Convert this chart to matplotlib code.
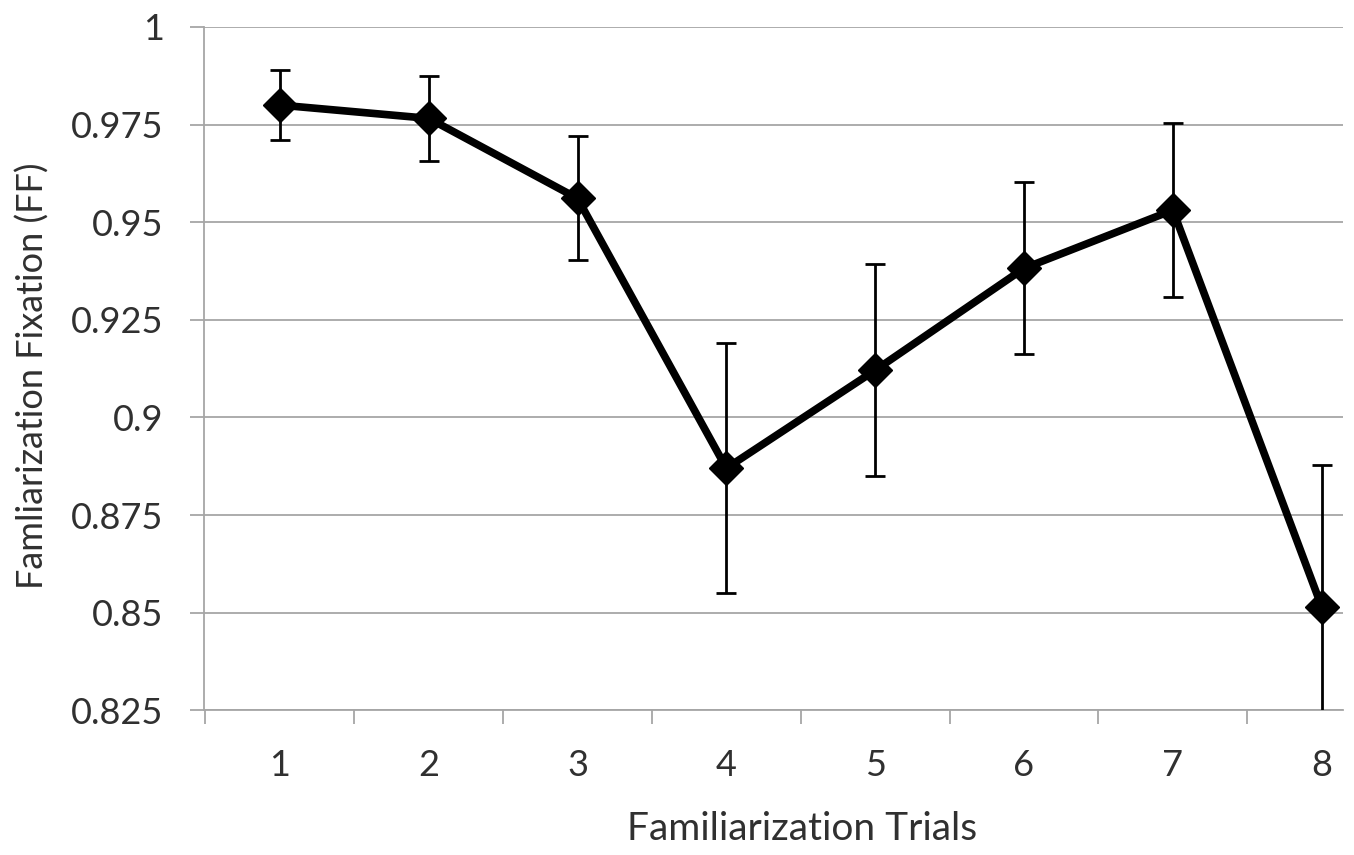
import numpy as np
import matplotlib
matplotlib.use('Agg')
import matplotlib.pyplot as plt
from matplotlib.ticker import FixedLocator, NullFormatter

# Data
trials = [1, 2, 3, 4, 5, 6, 7, 8]
ff_mean = [0.980, 0.9766, 0.9561, 0.8870, 0.9121, 0.9382, 0.9531, 0.8515]
ff_err = [0.0090, 0.0108, 0.0159, 0.0320, 0.0271, 0.0220, 0.0222, 0.0363]
y_ticks = [0.825, 0.85, 0.875, 0.9, 0.925, 0.95, 0.975, 1.0]
y_tick_labels = ['0.825', '0.85', '0.875', '0.9', '0.925', '0.95', '0.975', '1']

plt.rcParams['font.family'] = ['Lato', 'DejaVu Sans']

grid_col = '#a6a6a6'
text_col = '#303030'

fig = plt.figure(figsize=(13.54, 8.55), dpi=100)
ax = fig.add_axes([204 / 1354, 1 - 710.3 / 855, (1343 - 204) / 1354, 683.3 / 855])

ax.errorbar(trials, ff_mean, yerr=ff_err, fmt='none', ecolor='black',
            elinewidth=2, capsize=7, capthick=2, zorder=3)
ax.plot(trials, ff_mean, color='black', lw=5.5, marker='D', ms=17,
        zorder=4, solid_joinstyle='miter')

ax.set_xlim(0.49, 8.143)
ax.set_ylim(0.825, 1.0)

ax.set_yticks(y_ticks)
ax.set_yticklabels(y_tick_labels)
ax.set_xticks(trials)
ax.set_xticklabels([str(t) for t in trials])
ax.xaxis.set_minor_locator(FixedLocator([0.5, 1.5, 2.5, 3.5, 4.5, 5.5, 6.5, 7.5]))
ax.xaxis.set_minor_formatter(NullFormatter())

ax.grid(axis='y', color=grid_col, lw=1.3, zorder=0)
ax.set_axisbelow(True)

for s in ['top', 'right']:
    ax.spines[s].set_visible(False)
for s in ['left', 'bottom']:
    ax.spines[s].set_color(grid_col)
    ax.spines[s].set_linewidth(1.3)

ax.tick_params(axis='y', length=10, width=1.3, color=grid_col, pad=19,
               labelsize=26, labelcolor=text_col)
ax.tick_params(axis='x', which='major', length=0, pad=28,
               labelsize=26, labelcolor=text_col)
ax.tick_params(axis='x', which='minor', length=10, width=1.3, color=grid_col)

ax.set_xlabel('Familiarization Trials', fontsize=28, color=text_col)
ax.set_ylabel('Famliarization Fixation (FF)', fontsize=26, color=text_col)
ax.xaxis.set_label_coords(0.525, -0.148)
ax.yaxis.set_label_coords(-0.136, 0.49)

fig.savefig('out.png', dpi=100)
plt.close(fig)
